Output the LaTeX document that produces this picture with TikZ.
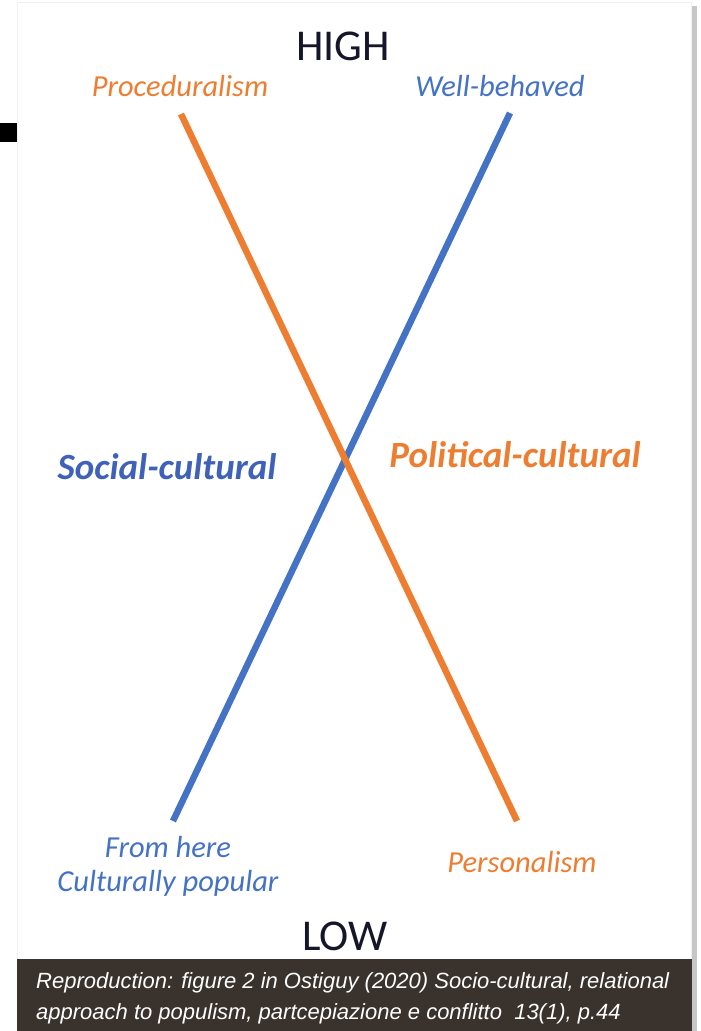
\documentclass[tikz,border=0pt]{standalone}
\usepackage{xcolor}
\usepackage{fontspec}
\setmainfont{Carlito}
\newfontfamily\capfont{Liberation Sans}
\usepackage{tikz}
\usetikzlibrary{calc}

\definecolor{axisorange}{HTML}{ED7D31}
\definecolor{axisblue}{HTML}{4472C4}
\definecolor{labelblue}{HTML}{3F62B8}
\definecolor{capbrown}{HTML}{3A322C}
\definecolor{levelink}{HTML}{16162A}

\begin{document}
\begin{tikzpicture}[x=1pt,y=-1pt,
    axisline/.style={line width=6.5pt},
    endlabel/.style={anchor=base,inner sep=0pt,font=\itshape\fontsize{30.5}{36}\selectfont},
    sidelabel/.style={anchor=base,inner sep=0pt,font=\bfseries\itshape\fontsize{37}{42}\selectfont},
    levellabel/.style={anchor=base,inner sep=0pt,text=levelink,font=\fontsize{44}{50}\selectfont},
    captext/.style={anchor=base west,inner sep=0pt,text=white,font=\capfont\itshape\fontsize{22}{26}\selectfont}]
            \useasboundingbox (0,0) rectangle (701,1031);
            {
            % Panel with its shadow
            \fill [gray!45] (691,6) rectangle (697,1031);%
            \fill [white, draw=gray!12] (17,2) rectangle (691,1031);%

            % Marking the black square
            \fill [black] (0,123) rectangle (17,142);%

            % Caption box
            \fill [capbrown] (17,959) rectangle (692,1031);%
            \node (cap1) [captext] at (36,988)
                {Reproduction: figure 2 in Ostiguy (2020) Socio-cultural, relational};%
            \node (cap2) [captext] at (36,1019)
                {approach to populism, partcepiazione e conflitto\ \ 13(1), p.44};%

            % Levels
            \node (high) [levellabel] at (343,60) {HIGH};%
            \node (low) [levellabel] at (345,950) {LOW};%

            % End points of the two lines
            \coordinate (proctop) at (181,114);%
            \coordinate (persbot) at (517,821);%
            \coordinate (welltop) at (510,113);%
            \coordinate (popbot) at (173,821);%

            % Drawing line social-cultural
            \draw [axisline, axisblue] (welltop) -- (popbot);%

            % Drawing line political-cultural
            \draw [axisline, axisorange] (proctop) -- (persbot);%

            % End labels
            \node (proc) [endlabel, text=axisorange] at (180,96) {Proceduralism};%
            \node (well) [endlabel, text=axisblue] at (500,96) {Well-behaved};%
            \node (from) [endlabel, text=axisblue] at (168,857) {From here};%
            \node (popular) [endlabel, text=axisblue] at (168,891) {Culturally popular};%
            \node (pers) [endlabel, text=axisorange] at (522,872) {Personalism};%

            % Side labels
            \node (social) [sidelabel, text=labelblue] at (167,479) {Social-cultural};%
            \node (political) [sidelabel, text=axisorange] at (515,467) {Political-cultural};%
            }
        \end{tikzpicture}
\end{document}
